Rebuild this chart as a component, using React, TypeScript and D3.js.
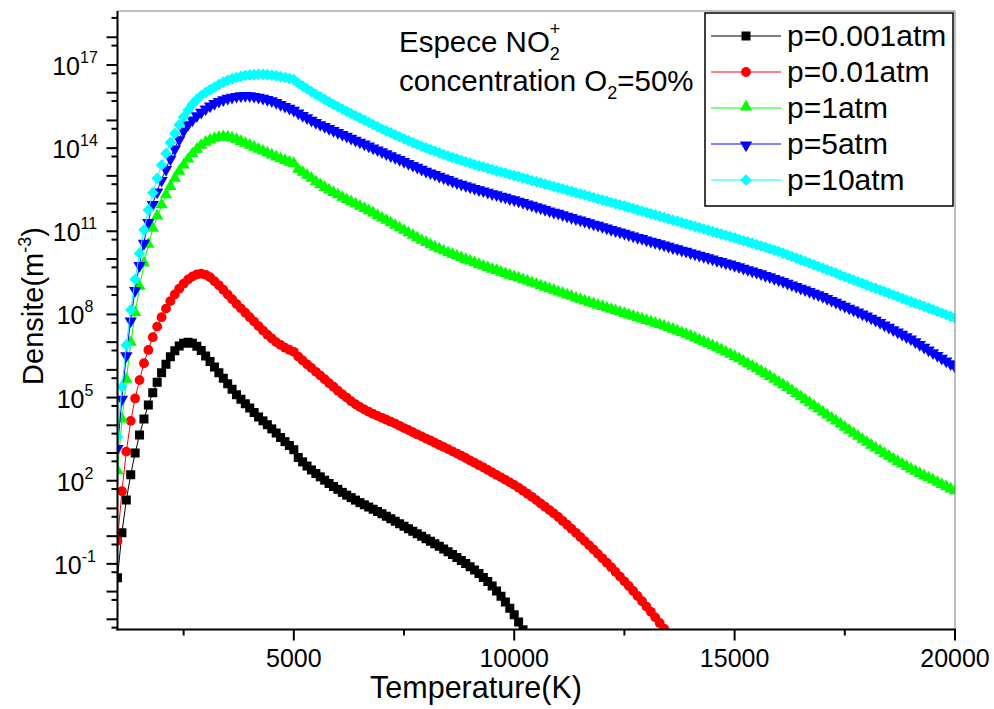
import React from 'react';
import * as d3 from 'd3';

// temperature grid (K)
const temperatures = [
  1000, 1100, 1200, 1300, 1400, 1500, 1600, 1700, 1800, 1900,
  2000, 2100, 2200, 2300, 2400, 2500, 2600, 2700, 2800, 2900,
  3000, 3100, 3200, 3300, 3400, 3500, 3600, 3700, 3800, 3900,
  4000, 4100, 4200, 4300, 4400, 4500, 4600, 4700, 4800, 4900,
  5000, 5100, 5200, 5300, 5400, 5500, 5600, 5700, 5800, 5900,
  6000, 6100, 6200, 6300, 6400, 6500, 6600, 6700, 6800, 6900,
  7000, 7100, 7200, 7300, 7400, 7500, 7600, 7700, 7800, 7900,
  8000, 8100, 8200, 8300, 8400, 8500, 8600, 8700, 8800, 8900,
  9000, 9100, 9200, 9300, 9400, 9500, 9600, 9700, 9800, 9900,
  10000, 10100, 10200, 10300, 10400, 10500, 10600, 10700, 10800, 10900,
  11000, 11100, 11200, 11300, 11400, 11500, 11600, 11700, 11800, 11900,
  12000, 12100, 12200, 12300, 12400, 12500, 12600, 12700, 12800, 12900,
  13000, 13100, 13200, 13300, 13400, 13500, 13600, 13700, 13800, 13900,
  14000, 14100, 14200, 14300, 14400, 14500, 14600, 14700, 14800, 14900,
  15000, 15100, 15200, 15300, 15400, 15500, 15600, 15700, 15800, 15900,
  16000, 16100, 16200, 16300, 16400, 16500, 16600, 16700, 16800, 16900,
  17000, 17100, 17200, 17300, 17400, 17500, 17600, 17700, 17800, 17900,
  18000, 18100, 18200, 18300, 18400, 18500, 18600, 18700, 18800, 18900,
  19000, 19100, 19200, 19300, 19400, 19500, 19600, 19700, 19800, 19900,
  20000,
];

// log10 of the NO2+ density (m^-3), one value per temperature
const logN_p0001 = [
  -1.5, 0.12, 1.3, 2.22, 3.0, 3.65, 4.23, 4.73, 5.17, 5.55,
  5.9, 6.2, 6.47, 6.69, 6.86, 6.96, 7.0, 6.96, 6.85, 6.7,
  6.5, 6.3, 6.1, 5.9, 5.7, 5.5, 5.3, 5.1, 4.94, 4.78,
  4.62, 4.46, 4.3, 4.16, 4.02, 3.87, 3.72, 3.56, 3.41, 3.27,
  3.12, 2.84, 2.68, 2.53, 2.39, 2.26, 2.14, 2.02, 1.9, 1.79,
  1.69, 1.58, 1.48, 1.39, 1.3, 1.21, 1.13, 1.05, 0.97, 0.89,
  0.81, 0.72, 0.63, 0.54, 0.45, 0.36, 0.27, 0.18, 0.09, 0.0,
  -0.09, -0.18, -0.27, -0.36, -0.46, -0.56, -0.66, -0.77, -0.88, -0.99,
  -1.1, -1.22, -1.35, -1.49, -1.64, -1.8, -1.98, -2.17, -2.38, -2.6,
  -2.84, -3.1, -3.38, -3.67,
];

const logN_p001 = [
  -0.17, 1.62, 3.05, 4.16, 4.97, 5.63, 6.24, 6.72, 7.18, 7.56,
  7.9, 8.21, 8.48, 8.72, 8.93, 9.11, 9.26, 9.37, 9.44, 9.47,
  9.43, 9.34, 9.2, 9.05, 8.89, 8.72, 8.55, 8.38, 8.22, 8.06,
  7.9, 7.74, 7.58, 7.42, 7.27, 7.13, 7.0, 6.9, 6.8, 6.72,
  6.65, 6.48, 6.34, 6.2, 6.07, 5.93, 5.8, 5.66, 5.52, 5.39,
  5.25, 5.12, 5.0, 4.87, 4.76, 4.66, 4.57, 4.49, 4.41, 4.34,
  4.27, 4.2, 4.13, 4.06, 3.98, 3.9, 3.83, 3.75, 3.67, 3.6,
  3.52, 3.45, 3.37, 3.29, 3.22, 3.14, 3.06, 2.98, 2.9, 2.82,
  2.73, 2.65, 2.56, 2.48, 2.39, 2.3, 2.21, 2.12, 2.03, 1.94,
  1.85, 1.75, 1.64, 1.53, 1.42, 1.3, 1.18, 1.06, 0.94, 0.82,
  0.69, 0.55, 0.41, 0.27, 0.12, -0.03, -0.18, -0.33, -0.48, -0.64,
  -0.8, -0.96, -1.12, -1.29, -1.46, -1.63, -1.8, -1.98, -2.16, -2.35,
  -2.54, -2.73, -2.93, -3.13, -3.34, -3.55,
];

const logN_p1 = [
  2.33, 4.19, 5.63, 6.96, 8.04, 8.98, 9.82, 10.5, 11.08, 11.52,
  11.92, 12.28, 12.58, 12.88, 13.13, 13.36, 13.57, 13.76, 13.93, 14.07,
  14.18, 14.26, 14.32, 14.36, 14.38, 14.37, 14.33, 14.28, 14.21, 14.14,
  14.07, 14.0, 13.93, 13.86, 13.79, 13.72, 13.65, 13.58, 13.52, 13.46,
  13.41, 13.2, 13.1, 12.99, 12.88, 12.76, 12.65, 12.55, 12.46, 12.37,
  12.28, 12.19, 12.11, 12.03, 11.95, 11.87, 11.79, 11.71, 11.63, 11.54,
  11.45, 11.36, 11.27, 11.18, 11.09, 11.0, 10.91, 10.82, 10.73, 10.64,
  10.56, 10.48, 10.4, 10.33, 10.26, 10.19, 10.13, 10.07, 10.01, 9.95,
  9.89, 9.83, 9.77, 9.71, 9.66, 9.6, 9.55, 9.49, 9.44, 9.38,
  9.33, 9.28, 9.22, 9.17, 9.11, 9.06, 9.0, 8.95, 8.89, 8.84,
  8.78, 8.73, 8.67, 8.62, 8.56, 8.51, 8.45, 8.4, 8.35, 8.3,
  8.25, 8.2, 8.15, 8.1, 8.05, 8.0, 7.95, 7.9, 7.85, 7.8,
  7.75, 7.7, 7.65, 7.6, 7.55, 7.49, 7.43, 7.37, 7.31, 7.25,
  7.19, 7.12, 7.05, 6.98, 6.91, 6.84, 6.77, 6.69, 6.61, 6.53,
  6.45, 6.37, 6.28, 6.19, 6.1, 6.01, 5.92, 5.83, 5.73, 5.63,
  5.53, 5.43, 5.33, 5.22, 5.11, 5.0, 4.89, 4.78, 4.67, 4.56,
  4.45, 4.34, 4.23, 4.12, 4.01, 3.9, 3.79, 3.68, 3.57, 3.46,
  3.35, 3.25, 3.15, 3.05, 2.95, 2.85, 2.75, 2.66, 2.57, 2.48,
  2.39, 2.31, 2.23, 2.15, 2.07, 1.99, 1.91, 1.83, 1.75, 1.67,
  1.6,
];

const logN_p5 = [
  3.2, 4.97, 6.54, 7.8, 8.9, 9.8, 10.6, 11.35, 12.0, 12.45,
  12.87, 13.26, 13.64, 14.0, 14.34, 14.65, 14.88, 15.05, 15.2, 15.33,
  15.45, 15.55, 15.64, 15.72, 15.78, 15.83, 15.87, 15.9, 15.92, 15.93,
  15.92, 15.9, 15.87, 15.83, 15.79, 15.74, 15.68, 15.61, 15.54, 15.47,
  15.4, 15.3, 15.21, 15.13, 15.04, 14.96, 14.88, 14.81, 14.74, 14.67,
  14.6, 14.53, 14.46, 14.39, 14.32, 14.25, 14.18, 14.11, 14.04, 13.97,
  13.9, 13.83, 13.76, 13.69, 13.62, 13.55, 13.48, 13.41, 13.34, 13.27,
  13.2, 13.14, 13.08, 13.02, 12.96, 12.9, 12.84, 12.78, 12.73, 12.68,
  12.63, 12.58, 12.53, 12.49, 12.44, 12.39, 12.35, 12.3, 12.26, 12.21,
  12.17, 12.12, 12.07, 12.02, 11.97, 11.92, 11.87, 11.82, 11.77, 11.72,
  11.68, 11.63, 11.58, 11.53, 11.48, 11.44, 11.39, 11.34, 11.29, 11.25,
  11.2, 11.15, 11.1, 11.05, 11.01, 10.96, 10.91, 10.86, 10.81, 10.77,
  10.72, 10.67, 10.63, 10.58, 10.54, 10.49, 10.44, 10.4, 10.35, 10.31,
  10.26, 10.21, 10.17, 10.12, 10.08, 10.03, 9.98, 9.94, 9.89, 9.85,
  9.8, 9.75, 9.7, 9.65, 9.6, 9.55, 9.5, 9.44, 9.39, 9.33,
  9.28, 9.22, 9.16, 9.1, 9.04, 8.98, 8.92, 8.86, 8.8, 8.74,
  8.68, 8.61, 8.54, 8.47, 8.4, 8.33, 8.26, 8.19, 8.12, 8.05,
  7.98, 7.9, 7.82, 7.74, 7.65, 7.57, 7.48, 7.4, 7.32, 7.23,
  7.15, 7.05, 6.95, 6.85, 6.75, 6.65, 6.55, 6.45, 6.35, 6.25,
  6.15,
];

const logN_p10 = [
  3.59, 5.39, 6.9, 8.16, 9.27, 10.2, 11.05, 11.77, 12.39, 12.91,
  13.39, 13.81, 14.2, 14.53, 14.84, 15.12, 15.37, 15.58, 15.76, 15.9,
  16.01, 16.11, 16.2, 16.3, 16.38, 16.45, 16.5, 16.55, 16.59, 16.62,
  16.64, 16.65, 16.66, 16.66, 16.65, 16.63, 16.61, 16.58, 16.55, 16.51,
  16.47, 16.34, 16.24, 16.14, 16.04, 15.94, 15.85, 15.76, 15.67, 15.58,
  15.5, 15.41, 15.33, 15.25, 15.17, 15.09, 15.01, 14.93, 14.85, 14.77,
  14.69, 14.62, 14.55, 14.48, 14.41, 14.34, 14.27, 14.2, 14.13, 14.07,
  14.01, 13.95, 13.89, 13.83, 13.77, 13.71, 13.66, 13.61, 13.56, 13.51,
  13.46, 13.41, 13.36, 13.32, 13.27, 13.23, 13.18, 13.14, 13.1, 13.05,
  13.01, 12.97, 12.92, 12.88, 12.83, 12.79, 12.75, 12.7, 12.66, 12.61,
  12.57, 12.53, 12.48, 12.44, 12.39, 12.35, 12.31, 12.26, 12.22, 12.17,
  12.13, 12.09, 12.04, 12.0, 11.95, 11.91, 11.86, 11.82, 11.77, 11.73,
  11.68, 11.63, 11.59, 11.54, 11.5, 11.45, 11.4, 11.36, 11.31, 11.27,
  11.22, 11.17, 11.13, 11.08, 11.04, 10.99, 10.94, 10.9, 10.85, 10.81,
  10.76, 10.71, 10.66, 10.62, 10.57, 10.52, 10.47, 10.42, 10.37, 10.32,
  10.27, 10.21, 10.15, 10.09, 10.03, 9.97, 9.91, 9.85, 9.79, 9.73,
  9.67, 9.61, 9.55, 9.49, 9.42, 9.36, 9.3, 9.24, 9.18, 9.12,
  9.06, 9.0, 8.94, 8.88, 8.82, 8.76, 8.7, 8.64, 8.58, 8.52,
  8.46, 8.4, 8.35, 8.29, 8.23, 8.17, 8.11, 8.05, 7.99, 7.93,
  7.87,
];

const seriesNames = ['p=0.001atm', 'p=0.01atm', 'p=1atm', 'p=5atm', 'p=10atm'];
const seriesColors = ['#000000', '#ff0000', '#00ff00', '#0000ff', '#00ffff'];
const seriesMarkers = ['square', 'circle', 'triangleUp', 'triangleDown', 'diamond'];
const seriesLogs = [logN_p0001, logN_p001, logN_p1, logN_p5, logN_p10];

const xTicks = [2500, 5000, 7500, 10000, 12500, 15000, 17500, 20000];
const xTickLabels = [5000, 10000, 15000, 20000];
const yLabelExponents = [-1, 2, 5, 8, 11, 14, 17];

const FONT = '"Liberation Sans", Arial, Helvetica, sans-serif';

const margin = { left: 117.5, right: 955, top: 11, bottom: 629.5 };

const x = d3.scaleLinear().domain([1000, 20000]).range([margin.left, margin.right]);
const y = d3.scaleLog().domain([Math.pow(10, -3.368), Math.pow(10, 18.948)]).range([margin.bottom, margin.top]);

const decadeTicks = d3.range(-3, 19).map((e) => Math.pow(10, e));
const minorTicks = d3.range(-4, 19).map((e) => 5 * Math.pow(10, e)).filter((v) => v >= y.domain()[0] && v <= y.domain()[1]);

function markerPath(kind: string) {
  if (kind === 'square') return d3.symbol().type(d3.symbolSquare).size(81)() as string;
  if (kind === 'circle') return d3.symbol().type(d3.symbolCircle).size(76)() as string;
  if (kind === 'diamond') return d3.symbol().type(d3.symbolSquare).size(68)() as string;
  return d3.symbol().type(d3.symbolTriangle).size(66)() as string;
}

function markerTransform(kind: string, px: number, py: number) {
  if (kind === 'diamond') return `translate(${px},${py}) rotate(45)`;
  if (kind === 'triangleDown') return `translate(${px},${py + 1}) rotate(180)`;
  if (kind === 'triangleUp') return `translate(${px},${py - 1})`;
  return `translate(${px},${py})`;
}

const line = d3
  .line<[number, number]>()
  .x((d) => x(d[0]))
  .y((d) => y(Math.pow(10, d[1])));

export default function App() {
  const series = seriesLogs.map((logs) => logs.map((v, i) => [temperatures[i], v] as [number, number]));

  return (
    <svg width={994} height={709} style={{ position: 'absolute', left: 0, top: 0, background: '#fff' }} fontFamily={FONT}>
      <defs>
        <clipPath id="plotClip">
          <rect x={margin.left} y={margin.top} width={margin.right - margin.left} height={margin.bottom - margin.top} />
        </clipPath>
      </defs>
      <rect x={0} y={0} width={994} height={709} fill="#fff" />

      {/* series */}
      <g clipPath="url(#plotClip)">
        {series.map((pts, si) => (
          <g key={si}>
            <path d={line(pts) as string} fill="none" stroke={seriesColors[si]} strokeWidth={1} />
            {pts.map((p, i) => (
              <path
                key={i}
                d={markerPath(seriesMarkers[si])}
                transform={markerTransform(seriesMarkers[si], x(p[0]), y(Math.pow(10, p[1])))}
                fill={seriesColors[si]}
              />
            ))}
          </g>
        ))}
      </g>

      {/* frame */}
      <line x1={margin.left} x2={margin.right} y1={margin.top} y2={margin.top} stroke="#7f7f7f" strokeWidth={1} />
      <line x1={margin.right} x2={margin.right} y1={margin.top} y2={margin.bottom} stroke="#7f7f7f" strokeWidth={1} />
      <line x1={margin.left} x2={margin.left} y1={margin.top} y2={margin.bottom + 1} stroke="#000" strokeWidth={2} />
      <line x1={margin.left - 1} x2={margin.right + 1} y1={margin.bottom} y2={margin.bottom} stroke="#000" strokeWidth={2} />

      {/* y ticks */}
      {decadeTicks.map((v) => (
        <line key={`d${v}`} x1={margin.left - 11} x2={margin.left} y1={y(v)} y2={y(v)} stroke="#000" strokeWidth={2} />
      ))}
      {minorTicks.map((v) => (
        <line key={`m${v}`} x1={margin.left - 6} x2={margin.left} y1={y(v)} y2={y(v)} stroke="#000" strokeWidth={2} />
      ))}
      {yLabelExponents.map((e) => (
        <text key={e} x={75} y={y(Math.pow(10, e)) + 10} textAnchor="middle" fontSize={25} fill="#000">
          <tspan>10</tspan>
          <tspan dy={-12} fontSize={16}>{e}</tspan>
        </text>
      ))}

      {/* x ticks */}
      {xTicks.map((t) => {
        const major = xTickLabels.indexOf(t) >= 0;
        return (
          <line key={t} x1={x(t)} x2={x(t)} y1={margin.bottom} y2={margin.bottom + (major ? 11 : 6)} stroke="#000" strokeWidth={2} />
        );
      })}
      {xTickLabels.map((t) => (
        <text key={t} x={x(t)} y={667} textAnchor="middle" fontSize={25} fill="#000">
          {t}
        </text>
      ))}

      {/* axis titles */}
      <text x={476} y={698} textAnchor="middle" fontSize={30.5} fill="#000">
        Temperature(K)
      </text>
      <text transform="translate(43,306) rotate(-90)" textAnchor="middle" fontSize={29} fill="#000">
        <tspan>Densite(m</tspan>
        <tspan dy={-12} fontSize={18}>-3</tspan>
        <tspan dy={12}>)</tspan>
      </text>

      {/* annotation */}
      <text x={399} y={52} fontSize={29.5} fill="#000">
        <tspan>Espece NO</tspan>
        <tspan dy={8} fontSize={18}>2</tspan>
        <tspan dx={-10} dy={-25} fontSize={18}>+</tspan>
      </text>
      <text x={399} y={91} fontSize={29.5} fill="#000">
        <tspan>concentration O</tspan>
        <tspan dy={8} fontSize={18}>2</tspan>
        <tspan dy={-8}>=50%</tspan>
      </text>

      {/* legend */}
      <rect x={705} y={13} width={248} height={193} fill="#fff" stroke="#000" strokeWidth={1.5} />
      {seriesNames.map((name, i) => {
        const cy = 36 + i * 36;
        return (
          <g key={name}>
            <line x1={711} x2={781} y1={cy} y2={cy} stroke={seriesColors[i]} strokeWidth={1} />
            <path d={markerPath(seriesMarkers[i])} transform={markerTransform(seriesMarkers[i], 746, cy)} fill={seriesColors[i]} />
            <text x={787} y={cy + 10} fontSize={30} fill="#000">
              {name}
            </text>
          </g>
        );
      })}
    </svg>
  );
}
